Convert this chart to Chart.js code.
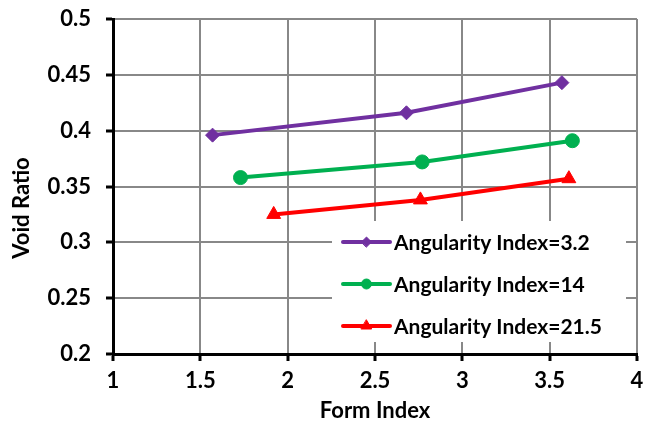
<!DOCTYPE html>
<html>
<head>
<meta charset="utf-8">
<script src="https://cdn.jsdelivr.net/npm/chart.js@4/dist/chart.umd.min.js"></script>
<style>
  html, body { margin: 0; padding: 0; background: #fff; }
  #wrap { width: 647px; height: 425px; }
</style>
</head>
<body>
<div id="wrap"><canvas id="c" width="647" height="425"></canvas></div>
<script>
const seriesLabels = ["Angularity Index=3.2", "Angularity Index=14", "Angularity Index=21.5"];
const formIndex32 = [1.57, 2.68, 3.57];
const voidRatio32 = [0.396, 0.416, 0.443];
const formIndex14 = [1.73, 2.77, 3.63];
const voidRatio14 = [0.358, 0.372, 0.391];
const formIndex215 = [1.92, 2.76, 3.61];
const voidRatio215 = [0.325, 0.338, 0.357];
const xTicks = [1, 1.5, 2, 2.5, 3, 3.5, 4];
const yTicks = [0.2, 0.25, 0.3, 0.35, 0.4, 0.45, 0.5];
const xTitle = "Form Index";
const yTitle = "Void Ratio";

const colors = ["#7030A0", "#00B050", "#FF0000"];
const styles = ["rectRot", "circle", "triangle"];
const radii = [7, 7, 8];
const legendRadii = [5, 5, 6];

function pts(xs, ys) { return xs.map((x, i) => ({ x: x, y: ys[i] })); }
const seriesData = [pts(formIndex32, voidRatio32), pts(formIndex14, voidRatio14), pts(formIndex215, voidRatio215)];

const FONT = "Lato";

const legendPlugin = {
  id: 'customLegend',
  afterDraw(chart) {
    const ctx = chart.ctx;
    ctx.save();
    ctx.fillStyle = '#ffffff';
    ctx.fillRect(332, 221, 294, 121);
    chart.data.datasets.forEach((ds, i) => {
      const y = 242 + i * 42;
      ctx.strokeStyle = ds.borderColor;
      ctx.lineWidth = 4;
      ctx.lineCap = 'round';
      ctx.beginPath();
      ctx.moveTo(343, y);
      ctx.lineTo(390, y);
      ctx.stroke();
      ctx.fillStyle = ds.borderColor;
      ctx.lineWidth = 1;
      Chart.helpers.drawPoint(ctx, { pointStyle: ds.pointStyle, radius: legendRadii[i], borderWidth: 1 }, 366.5, y);
      ctx.fillStyle = '#000';
      ctx.font = "bold 21px " + FONT;
      ctx.textBaseline = 'middle';
      ctx.textAlign = 'left';
      ctx.fillText(ds.label, 394, y + 1);
    });
    // y-axis title
    ctx.translate(22, 208);
    ctx.rotate(-Math.PI / 2);
    ctx.font = "bold 22px " + FONT;
    ctx.fillStyle = '#000';
    ctx.textAlign = 'center';
    ctx.textBaseline = 'middle';
    ctx.fillText(yTitle, 0, 0);
    ctx.restore();
  }
};

function zeroPad(scale) {
  scale.paddingTop = 0; scale.paddingBottom = 0; scale.paddingLeft = 0; scale.paddingRight = 0;
}

new Chart(document.getElementById('c'), {
  type: 'scatter',
  data: {
    datasets: seriesLabels.map((label, i) => ({
      label: label,
      data: seriesData[i],
      showLine: true,
      borderColor: colors[i],
      backgroundColor: colors[i],
      borderWidth: 4,
      pointStyle: styles[i],
      pointRadius: radii[i],
      pointHoverRadius: radii[i],
      pointBorderWidth: 1,
      tension: 0
    }))
  },
  options: {
    responsive: false,
    animation: false,
    devicePixelRatio: 1,
    layout: { autoPadding: false, padding: { top: 19, right: 10, left: 0, bottom: 0 } },
    plugins: { legend: { display: false }, tooltip: { enabled: false } },
    scales: {
      x: {
        type: 'linear', min: 1, max: 4,
        afterBuildTicks(scale) { scale.ticks = xTicks.map(v => ({ value: v })); },
        afterFit(scale) { scale.height = 71; zeroPad(scale); },
        grid: { color: '#888888', lineWidth: 2, tickColor: '#000', tickWidth: 3, tickLength: 7 },
        border: { color: '#000', width: 3 },
        ticks: { color: '#000', font: { family: FONT, size: 22, weight: 'bold' }, padding: 7, maxRotation: 0,
                 callback: v => String(v) },
        title: { display: true, text: xTitle, color: '#000', font: { family: FONT, size: 22, weight: 'bold' }, padding: { top: 0, bottom: 1 } }
      },
      y: {
        type: 'linear', min: 0.2, max: 0.5,
        afterBuildTicks(scale) { scale.ticks = yTicks.map(v => ({ value: v })); },
        afterFit(scale) { scale.width = 113; zeroPad(scale); },
        grid: { color: '#888888', lineWidth: 2, tickColor: '#000', tickWidth: 3, tickLength: 7 },
        border: { color: '#000', width: 3 },
        ticks: { color: '#000', font: { family: FONT, size: 22, weight: 'bold' }, padding: 15,
                 callback: v => String(v) },
        title: { display: false }
      }
    }
  },
  plugins: [legendPlugin]
});
</script>
</body>
</html>
